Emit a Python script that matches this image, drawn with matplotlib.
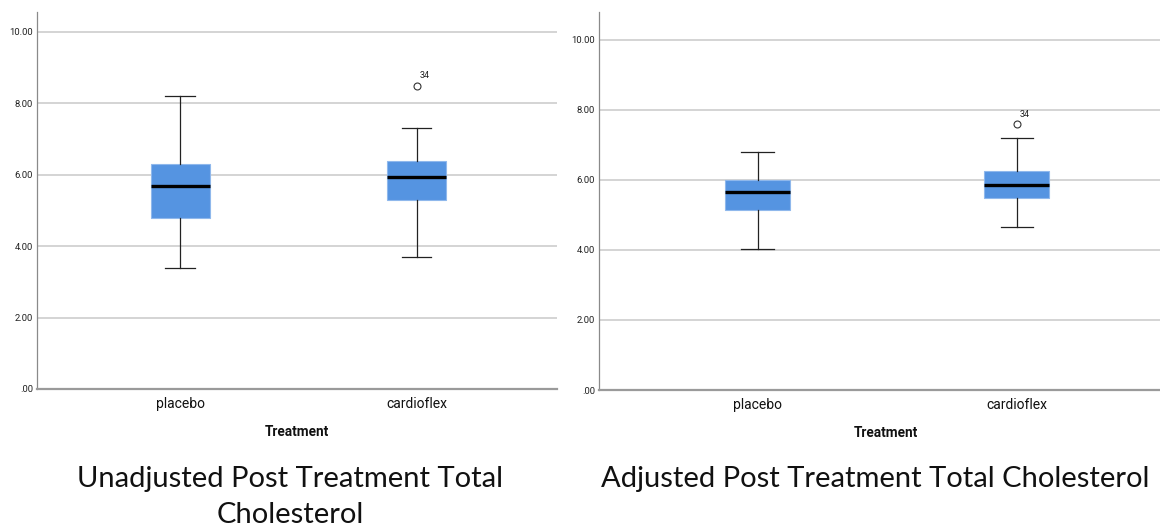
import matplotlib
matplotlib.use("Agg")
import matplotlib.pyplot as plt

# données (SPSS boxplots)
groupes = ["placebo", "cardioflex"]

# non ajusté
unadj_wlo = [3.4, 3.7]
unadj_q1 = [4.8, 5.3]
unadj_med = [5.7, 5.95]
unadj_q3 = [6.3, 6.4]
unadj_whi = [8.2, 7.3]
unadj_outliers = [[], [8.5]]

# ajusté
adj_wlo = [4.03, 4.65]
adj_q1 = [5.14, 5.49]
adj_med = [5.64, 5.85]
adj_q3 = [6.0, 6.26]
adj_whi = [6.8, 7.18]
adj_outliers = [[], [7.58]]

outlier_ids = [[], ["34"]]
yticks = [0, 2, 4, 6, 8, 10]
ytick_labels = [".00", "2.00", "4.00", "6.00", "8.00", "10.00"]

caption_left = "Unadjusted Post Treatment Total"
caption_left2 = "Cholesterol"
caption_right = "Adjusted Post Treatment Total Cholesterol"

NARROW = ["Roboto", "DejaVu Sans"]
BOX_BLUE = "#5594e1"


def make_stats(wlo, q1, med, q3, whi, fl):
    stats = []
    for i in range(len(med)):
        stats.append(dict(whislo=wlo[i], q1=q1[i], med=med[i], q3=q3[i],
                          whishi=whi[i], fliers=fl[i], label=groupes[i]))
    return stats


def draw_panel(ax, stats, ymax, xlim):
    ax.set_axisbelow(True)
    ax.bxp(stats, positions=[0, 1], widths=0.25, patch_artist=True,
           boxprops=dict(facecolor=BOX_BLUE, edgecolor="#8fb8ec", linewidth=0.8),
           medianprops=dict(color="black", linewidth=2.4),
           whiskerprops=dict(color="#222222", linewidth=0.9),
           capprops=dict(color="#222222", linewidth=0.9),
           capwidths=0.125,
           flierprops=dict(marker="o", markersize=5, markerfacecolor="none",
                           markeredgecolor="#333333", markeredgewidth=0.8))
    # étiquettes des valeurs extrêmes
    for i, vals in enumerate([s["fliers"] for s in stats]):
        for v, lab in zip(vals, outlier_ids[i]):
            ax.annotate(lab, (i, v), xytext=(5.5, 7), textcoords="offset points",
                        fontsize=6.5, family=NARROW, color="#222222",
                        ha="center", va="center")
    ax.set_xlim(*xlim)
    ax.set_ylim(0, ymax)
    ax.set_yticks(yticks)
    ax.set_yticklabels(ytick_labels, family=NARROW, fontsize=6.8, color="#222222")
    ax.set_xticks([0, 1])
    ax.set_xticklabels(groupes, family=NARROW, fontsize=10, color="#111111")
    ax.tick_params(axis="both", length=0)
    ax.tick_params(axis="y", pad=2.5)
    ax.tick_params(axis="x", pad=6)
    ax.grid(axis="y", color="#d4d4d4", linewidth=1.4)
    for s in ["top", "right"]:
        ax.spines[s].set_visible(False)
    ax.spines["left"].set_color("#8a8a8a")
    ax.spines["left"].set_linewidth(0.9)
    ax.spines["bottom"].set_color("#9a9a9a")
    ax.spines["bottom"].set_linewidth(1.6)
    ax.set_xlabel("Treatment", family=NARROW, fontsize=9.8, fontweight="bold",
                  labelpad=10, color="#111111")


W, H = 1160, 529
fig = plt.figure(figsize=(W / 100, H / 100), dpi=100)

ax1 = fig.add_axes([36.7 / W, 1 - 389 / H, (557.3 - 36.7) / W, (389 - 12) / H])
ax2 = fig.add_axes([598.7 / W, 1 - 390 / H, (1172.2 - 598.7) / W, (390 - 12) / H])

draw_panel(ax1, make_stats(unadj_wlo, unadj_q1, unadj_med, unadj_q3, unadj_whi,
                           unadj_outliers), 10.56, (-0.607, 1.595))
draw_panel(ax2, make_stats(adj_wlo, adj_q1, adj_med, adj_q3, adj_whi,
                           adj_outliers), 10.79, (-0.613, 1.6))

cap_font = ["Lato", "DejaVu Sans"]
fig.text(290 / W, 1 - 487 / H, caption_left, family=cap_font, fontsize=21,
         ha="center", va="baseline", color="#111111")
fig.text(290 / W, 1 - 523 / H, caption_left2, family=cap_font, fontsize=21,
         ha="center", va="baseline", color="#111111")
fig.text(875 / W, 1 - 487 / H, caption_right, family=cap_font, fontsize=21,
         ha="center", va="baseline", color="#111111")

fig.savefig("out.png", dpi=100)
